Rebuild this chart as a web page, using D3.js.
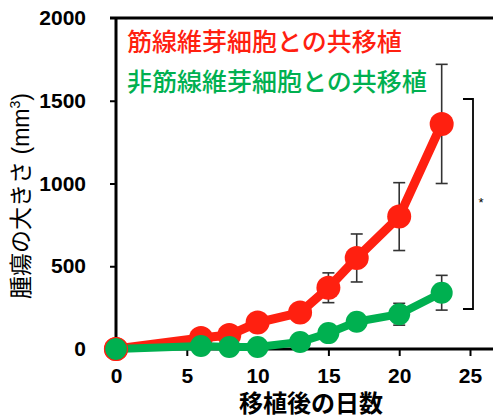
<!DOCTYPE html>
<head>
  <meta charset="utf-8">
  <script src="https://d3js.org/d3.v7.min.js"></script>
  <style>
    body { margin:0; background:#fff; }
    text { font-family: "Liberation Sans", Arial, sans-serif; }
    .jp { font-family: "Liberation Sans", "Noto Sans CJK JP", sans-serif; }
  </style>
</head>
<body>
<script>
var width = 493, height = 416;

// data
var days = [0, 6, 8, 10, 13, 15, 17, 20, 23];
var withCAF = [0, 66, 84, 160, 220, 370, 550, 800, 1360];
var withCAFErr = [0, 0, 0, 0, 0, 90, 145, 205, 360];
var withoutCAF = [0, 18, 12, 12, 42, 96, 165, 210, 340];
var withoutCAFErr = [0, 0, 0, 0, 0, 0, 36, 66, 105];
var xTicks = [0, 5, 10, 15, 20, 25];
var yTicks = [0, 500, 1000, 1500, 2000];
var legendLabels = ["筋線維芽細胞との共移植", "非筋線維芽細胞との共移植"];
var colors = ["#ff2010", "#00b050"];

var svg = d3.select("body").append("svg")
  .attr("width", width)
  .attr("height", height)

var x = d3.scaleLinear().domain([0, 25]).range([116, 470]);
var y = d3.scaleLinear().domain([0, 2000]).range([349, 18]);

// frame top + axes
svg.append("line").attr("x1", 110).attr("x2", width).attr("y1", 18).attr("y2", 18)
  .attr("stroke", "#000").attr("stroke-width", 3);

var yAxis = svg.append("g").attr("transform", "translate(116,0)")
  .call(d3.axisLeft(y).tickValues(yTicks).tickFormat(d3.format("d")).tickSize(6).tickPadding(24));
var xAxis = svg.append("g").attr("transform", "translate(0,349)")
  .call(d3.axisBottom(x).tickValues(xTicks).tickFormat(d3.format("d")).tickSize(7).tickPadding(12));

[yAxis, xAxis].forEach(function(a) {
  a.select(".domain").remove();
  a.selectAll("line").attr("stroke", "#000").attr("stroke-width", 2);
  a.selectAll("text").attr("fill", "#000").style("font-size", "21px").style("font-weight", "bold");
});
xAxis.selectAll(".tick").filter(function(d) { return d == 0; }).select("line").remove();
yAxis.selectAll(".tick").filter(function(d) { return d == 0 || d == 2000; }).select("line").remove();

svg.append("line").attr("x1", 116).attr("x2", 116).attr("y1", 17).attr("y2", 350)
  .attr("stroke", "#000").attr("stroke-width", 3);
svg.append("line").attr("x1", 116).attr("x2", width).attr("y1", 349).attr("y2", 349)
  .attr("stroke", "#000").attr("stroke-width", 3);

// error bars
function errBars(vals, errs) {
  var g = svg.append("g").attr("stroke", "#333").attr("stroke-width", 1.6);
  days.forEach(function(d, i) {
    if (!errs[i]) return;
    var cx = x(d);
    g.append("line").attr("x1", cx).attr("x2", cx).attr("y1", y(vals[i] + errs[i])).attr("y2", y(vals[i] - errs[i]));
    [vals[i] + errs[i], vals[i] - errs[i]].forEach(function(v) {
      g.append("line").attr("x1", cx - 6).attr("x2", cx + 6).attr("y1", y(v)).attr("y2", y(v));
    });
  });
}
errBars(withCAF, withCAFErr);
errBars(withoutCAF, withoutCAFErr);

var line = d3.line().x(function(d) { return x(d[0]); }).y(function(d) { return y(d[1]); });

function series(vals, color, r, lw) {
  var pts = days.map(function(d, i) { return [d, vals[i]]; });
  svg.append("path").datum(pts).attr("d", line)
    .attr("fill", "none").attr("stroke", color).attr("stroke-width", lw);
  svg.selectAll(null).data(pts).enter().append("circle")
    .attr("cx", function(d) { return x(d[0]); })
    .attr("cy", function(d) { return y(d[1]); })
    .attr("r", r).attr("fill", color);
}
series(withCAF, colors[0], 12, 9);
series(withoutCAF, colors[1], 11, 8);
// outline of the shared day-0 point
svg.append("circle").attr("cx", x(0)).attr("cy", y(0)).attr("r", 11.5)
  .attr("fill", "none").attr("stroke", colors[0]).attr("stroke-width", 1.2);

// significance bracket
svg.append("path").attr("d", "M463,99H473V309H463")
  .attr("fill", "none").attr("stroke", "#000").attr("stroke-width", 1.8);
svg.append("text").attr("x", 481).attr("y", 207).attr("text-anchor", "middle")
  .style("font-size", "13px").text("*");

// legend
legendLabels.forEach(function(t, i) {
  svg.append("text").attr("class", "jp").attr("x", 127).attr("y", 51 + i * 40)
    .attr("fill", colors[i]).style("font-size", "25px").style("font-weight", "500").text(t);
});

// axis titles
var yt = svg.append("text").attr("class", "jp").attr("transform", "translate(29,196)rotate(-90)")
  .attr("text-anchor", "middle").style("font-size", "23px");
yt.append("tspan").text("腫瘍の大きさ (mm");
yt.append("tspan").attr("dy", -9).style("font-size", "14px").text("3");
yt.append("tspan").attr("dy", 9).text(")");
svg.append("text").attr("class", "jp").attr("x", 311).attr("y", 412)
  .attr("text-anchor", "middle").style("font-size", "24px").style("font-weight", "bold")
  .text("移植後の日数");
</script>
</body>
</html>
